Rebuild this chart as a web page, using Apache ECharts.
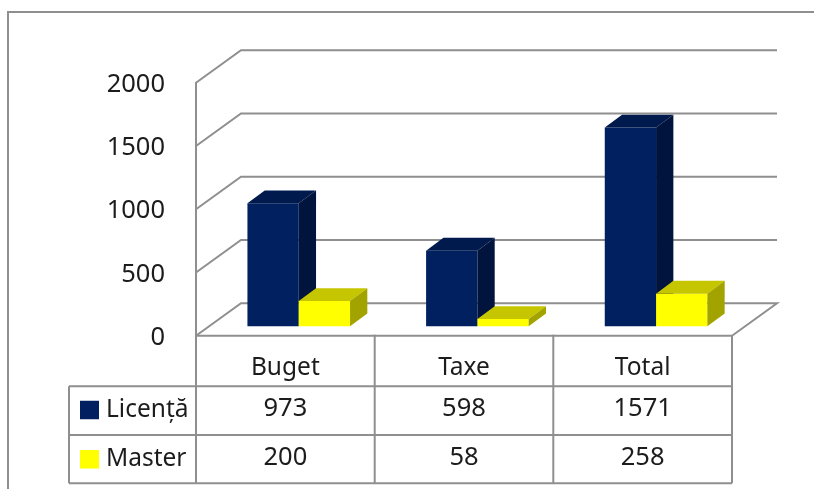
<!DOCTYPE html>
<html>
<head>
<meta charset="utf-8">
<style>
  html, body { margin: 0; background: #fff; }
  #chart { width: 814px; height: 489px; }
</style>
<script src="https://cdn.jsdelivr.net/npm/echarts@6/dist/echarts.min.js"></script>
</head>
<body>
<div id="chart"></div>
<script>
const categories = ['Buget', 'Taxe', 'Total']
const licenta = [973, 598, 1571]
const master = [200, 58, 258]
const yTicks = [0, 500, 1000, 1500, 2000]

const font = '"Noto Sans", sans-serif'
const textColor = '#1c1c1c'
const lineColor = '#8f8f8f'

// oblique wall/floor offset and where the bars sit on the floor
const wallDx = 45
const wallDy = -32.5
const barW = 51.3
const barDx = 17.3
const barDy = -12.8
const floorDx = 13.4
const floorDy = -9.4

// table rows, pixels
const left = 196
const right = 732
const tableLeft = 69
const rows = [335.7, 386.3, 435, 483.3]
const rowText = [409, 457.5]

const chart = echarts.init(document.getElementById('chart'))

const renderWall = (params, api) => {
  const p = api.coord([0, api.value(1)])
  const isFloor = api.value(1) === 0
  const pts = [
    [left, p[1]],
    [left + wallDx, p[1] + wallDy],
    [right + wallDx, p[1] + wallDy],
  ]
  if (isFloor) pts.push([right, p[1]])
  return {
    type: 'polyline',
    shape: { points: pts },
    style: { fill: 'none', stroke: lineColor, lineWidth: 2 },
    silent: true,
  }
}

const barRenderer = (slot, front, top, side, row) => (params, api) => {
  const base = api.coord([api.value(0), 0])
  const head = api.coord([api.value(0), api.value(1)])
  const x0 = base[0] + floorDx - barW + slot * barW
  const x1 = x0 + barW
  const y0 = base[1] + floorDy
  const y1 = head[1] + floorDy
  return {
    type: 'group',
    children: [
      {
        type: 'polygon',
        shape: { points: [[x0, y0], [x1, y0], [x1, y1], [x0, y1]] },
        style: { fill: front },
      },
      {
        type: 'polygon',
        shape: { points: [[x0, y1], [x1, y1], [x1 + barDx, y1 + barDy], [x0 + barDx, y1 + barDy]] },
        style: { fill: top },
      },
      {
        type: 'polygon',
        shape: { points: [[x1, y0], [x1 + barDx, y0 + barDy], [x1 + barDx, y1 + barDy], [x1, y1]] },
        style: { fill: side },
      },
      {
        type: 'text',
        style: {
          x: base[0],
          y: rowText[row],
          text: String(api.value(1)),
          font: '25.5px ' + font,
          fill: textColor,
          align: 'center',
          verticalAlign: 'middle',
        },
      },
    ],
  }
}

const tableLine = (x1, y1, x2, y2) => ({
  type: 'line',
  shape: { x1, y1, x2, y2 },
  style: { stroke: lineColor, lineWidth: 2 },
})

const option = {
  animation: false,
  backgroundColor: '#fff',
  color: ['#002060', '#ffff00'],
  textStyle: { fontFamily: font },
  grid: { left, top: 82.7, width: right - left, height: 253 },
  legend: {
    data: ['Licență', 'Master'],
    orient: 'vertical',
    left: 75,
    top: 392.5,
    icon: 'rect',
    itemWidth: 19,
    itemHeight: 18.5,
    itemGap: 24.3,
    selectedMode: false,
    textStyle: { fontSize: 24.5, color: textColor, fontFamily: font, padding: [0, 0, 2, 2] },
  },
  xAxis: {
    type: 'category',
    data: categories,
    axisLine: { show: false },
    axisTick: { show: false },
    axisLabel: { fontSize: 24.5, color: textColor, margin: 20, fontFamily: font },
  },
  yAxis: {
    type: 'value',
    min: 0,
    max: 2000,
    interval: 500,
    splitLine: { show: false },
    axisTick: { show: false },
    axisLine: { show: true, lineStyle: { color: lineColor, width: 2 } },
    axisLabel: {
      color: textColor,
      margin: 31,
      formatter: (v) => '{v|' + v + '}',
      rich: {
        v: { fontSize: 25.5, color: textColor, fontFamily: font, padding: [4, 0, 0, 0] },
      },
    },
  },
  graphic: [
    // outer chart frame, runs off the right and bottom of the picture
    {
      type: 'rect',
      shape: { x: 8, y: 12, width: 900, height: 600 },
      style: { fill: 'none', stroke: lineColor, lineWidth: 2 },
      silent: true,
    },
    tableLine(left, rows[0], right, rows[0]),
    tableLine(tableLeft, rows[1], right, rows[1]),
    tableLine(tableLeft, rows[2], right, rows[2]),
    tableLine(tableLeft, rows[3], right, rows[3]),
    tableLine(tableLeft, rows[1], tableLeft, rows[3]),
    tableLine(left, rows[0], left, rows[3]),
    tableLine(374.7, rows[0] - 1, 374.7, rows[3]),
    tableLine(553.3, rows[0] - 1, 553.3, rows[3]),
    tableLine(right, rows[0], right, rows[3]),
  ],
  series: [
    {
      name: 'walls',
      type: 'custom',
      clip: false,
      silent: true,
      renderItem: renderWall,
      data: yTicks.map((t) => [0, t]),
    },
    {
      name: 'Licență',
      type: 'custom',
      clip: false,
      renderItem: barRenderer(0, '#002060', '#001a4d', '#00143d', 0),
      itemStyle: { color: '#002060' },
      data: licenta.map((v, i) => [i, v]),
    },
    {
      name: 'Master',
      type: 'custom',
      clip: false,
      renderItem: barRenderer(1, '#ffff00', '#c6c600', '#a3a300', 1),
      itemStyle: { color: '#ffff00' },
      data: master.map((v, i) => [i, v]),
    },
  ],
}

chart.setOption(option)
window.addEventListener('resize', () => chart.resize())
</script>
</body>
</html>
